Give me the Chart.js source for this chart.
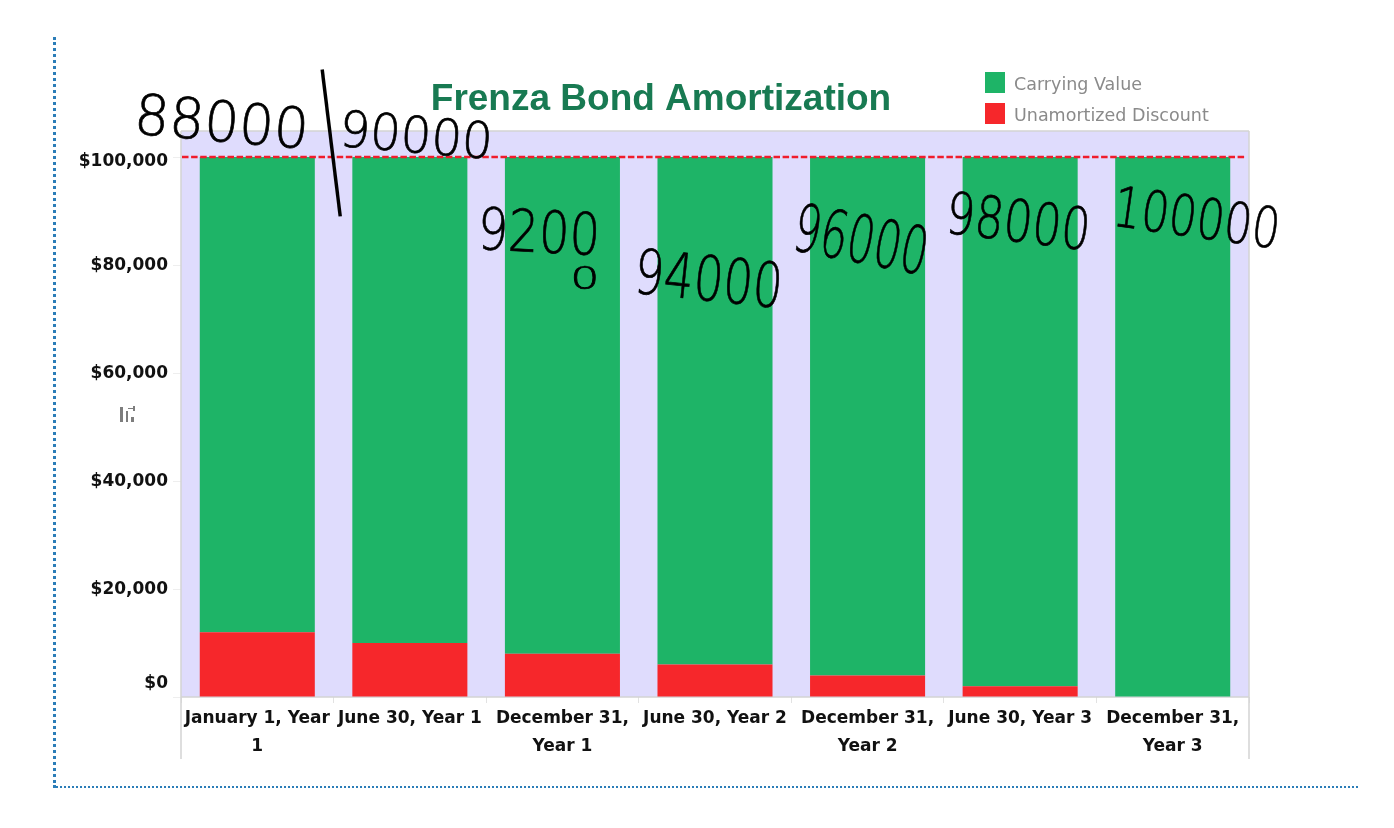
<!DOCTYPE html>
<html><head><meta charset="utf-8">
<style>
html,body{margin:0;padding:0;background:#fff;overflow:hidden}
#wrap{position:relative;width:1394px;height:828px}
#frameL{position:absolute;left:53px;top:37px;width:0;height:751px;border-left:3px dotted #2b7db8}
#frameB{position:absolute;left:53px;top:786px;width:1305px;height:0;border-bottom:2px dotted #2b7db8}
#c{position:absolute;left:0;top:0}
.ib{position:absolute;background:#7d7d7d}
</style>
</head><body>
<div id="wrap">
<div id="frameL"></div><div id="frameB"></div>
<canvas id="c" width="1322" height="828" style="width:1322px;height:828px"></canvas>
<div class="ib" style="left:120px;top:407px;width:3px;height:15px"></div>
<div class="ib" style="left:126px;top:411px;width:2px;height:11px"></div>
<div class="ib" style="left:131px;top:417px;width:3px;height:5px"></div>
<div class="ib" style="left:128px;top:408px;width:7px;height:1px"></div>
<div class="ib" style="left:133px;top:406px;width:2px;height:5px"></div>
</div>
<script src="https://cdn.jsdelivr.net/npm/chart.js@4/dist/chart.umd.min.js"></script>
<script>
const categories=[["January 1, Year","1"],"June 30, Year 1",["December 31,","Year 1"],"June 30, Year 2",["December 31,","Year 2"],"June 30, Year 3",["December 31,","Year 3"]];
const carryingValue=[88000,90000,92000,94000,96000,98000,100000];
const unamortizedDiscount=[12000,10000,8000,6000,4000,2000,0];
const faceValue=100000;
const tickValues=[0,20000,40000,60000,80000,100000];
const axisMax=104815;
const chartTitle="Frenza Bond Amortization";
const seriesNames=["Carrying Value","Unamortized Discount"];
const seriesColors=["#1eb467","#f6272b"];
const inkLabels=["88000","|","90000","9200","0","94000","96000","98000","100000"];

// placement of the handwritten notes: x, baseline y, width, font size, slope in degrees
const inkPlacement=[
 [138,134,165,56,5],
 [334,182,4,148,-7],
 [342,146,146,50,5],
 [481,249,114,58,3],
 [573,289,23,32,0],
 [637,293,140,62,6],
 [794,250,128,66,11],
 [948,233,137,58,7],
 [1116,226,159,56,8]
];
// the $0 and $100,000 labels sit off their tick marks in the original
const tickLabelShift={0:-13,100000:5};

const decor={
 id:'decor',
 beforeDraw(ch){
  const y=ch.scales.y;
  y.getLabelItems().forEach((it,i)=>{
   const v=y.ticks[i].value;
   it.options.translation[1]=y.getPixelForValue(v)+(tickLabelShift[v]??1);
  });
 },
 beforeDatasetsDraw(ch){
  const {ctx,chartArea:a}=ch;
  ctx.save();
  ctx.fillStyle='#dfdcfd';
  ctx.fillRect(a.left,a.top,a.right-a.left,a.bottom-a.top);
  ctx.strokeStyle='#d4d4d4';ctx.lineWidth=1.5;
  ctx.beginPath();
  ctx.moveTo(a.left,a.top);ctx.lineTo(a.right,a.top);
  ctx.moveTo(a.left,a.top);ctx.lineTo(a.left,759);
  ctx.moveTo(a.right,a.top);ctx.lineTo(a.right,759);
  ctx.moveTo(a.left,a.bottom);ctx.lineTo(a.right,a.bottom);
  ctx.stroke();
  ctx.restore();
 },
 afterDatasetsDraw(ch){
  const {ctx,chartArea:a,scales:{y}}=ch;
  ctx.save();
  const py=y.getPixelForValue(faceValue);
  ctx.strokeStyle='#f01c2c';ctx.lineWidth=2.6;ctx.setLineDash([6.5,2.6]);
  ctx.beginPath();ctx.moveTo(a.left+1,py);ctx.lineTo(a.right-3,py);ctx.stroke();
  ctx.restore();
 },
 afterDraw(ch){
  const {ctx}=ch;
  // legend
  ctx.save();
  const rows=[ch.data.datasets[1],ch.data.datasets[0]];
  rows.forEach((d,i)=>{
   const top=72+i*31;
   ctx.fillStyle=d.backgroundColor;
   ctx.fillRect(985,top,20,21);
   ctx.fillStyle='#8a8a8a';
   ctx.font='17.5px "DejaVu Sans"';
   ctx.textBaseline='middle';ctx.textAlign='left';
   ctx.fillText(d.label,1014,top+13);
  });
  ctx.restore();
  // handwriting
  inkLabels.forEach((t,i)=>{
   const [x,yy,w,size,deg]=inkPlacement[i];
   ctx.save();
   ctx.font='200 '+size+'px "DejaVu Sans", sans-serif';
   ctx.textBaseline='alphabetic';ctx.textAlign='left';
   const m=ctx.measureText(t);
   const box=m.actualBoundingBoxRight+m.actualBoundingBoxLeft;
   ctx.translate(x,yy);ctx.rotate(deg*Math.PI/180);
   ctx.scale(w/box,1);
   ctx.translate(m.actualBoundingBoxLeft,0);
   ctx.fillStyle='#000';
   ctx.fillText(t,0,0);
   if(t!=='|'){ctx.strokeStyle='#000';ctx.lineWidth=0.7;ctx.strokeText(t,0,0);}
   ctx.restore();
  });
 }
};

new Chart(document.getElementById('c'),{
 type:'bar',
 data:{labels:categories,datasets:[
  {label:seriesNames[1],data:unamortizedDiscount,backgroundColor:seriesColors[1]},
  {label:seriesNames[0],data:carryingValue,backgroundColor:seriesColors[0]}
 ]},
 plugins:[decor],
 options:{
  responsive:false,animation:false,
  devicePixelRatio:1,
  layout:{padding:{top:78,right:73,bottom:0,left:73}},
  datasets:{bar:{barPercentage:0.754,categoryPercentage:1}},
  plugins:{
   legend:{display:false},tooltip:{enabled:false},
   title:{display:true,text:chartTitle,color:'#187a52',
    font:{family:'"Liberation Sans"',size:37,weight:'bold',lineHeight:1.2},
    padding:{top:0,bottom:8.6}}
  },
  scales:{
   x:{stacked:true,
    afterFit(s){s.height=131;},
    grid:{drawOnChartArea:false,color:'#e2e2e2',tickLength:6,offset:true},
    border:{display:false},
    ticks:{autoSkip:false,maxRotation:0,minRotation:0,color:'#111',padding:1.5,
     font:{family:'"DejaVu Sans"',size:17,weight:'bold',lineHeight:1.65}}
   },
   y:{stacked:true,min:0,max:axisMax,
    afterFit(s){s.width=108;},
    afterBuildTicks(s){s.ticks=tickValues.map(v=>({value:v}));},
    grid:{drawOnChartArea:false,color:'#eeeeee',tickLength:8},
    border:{display:false},
    ticks:{color:'#111',padding:5,
     font:{family:'"DejaVu Sans"',size:17,weight:'bold'},
     callback:v=>'$'+v.toLocaleString('en-US')}
   }
  }
 }
});
</script>
</body></html>
